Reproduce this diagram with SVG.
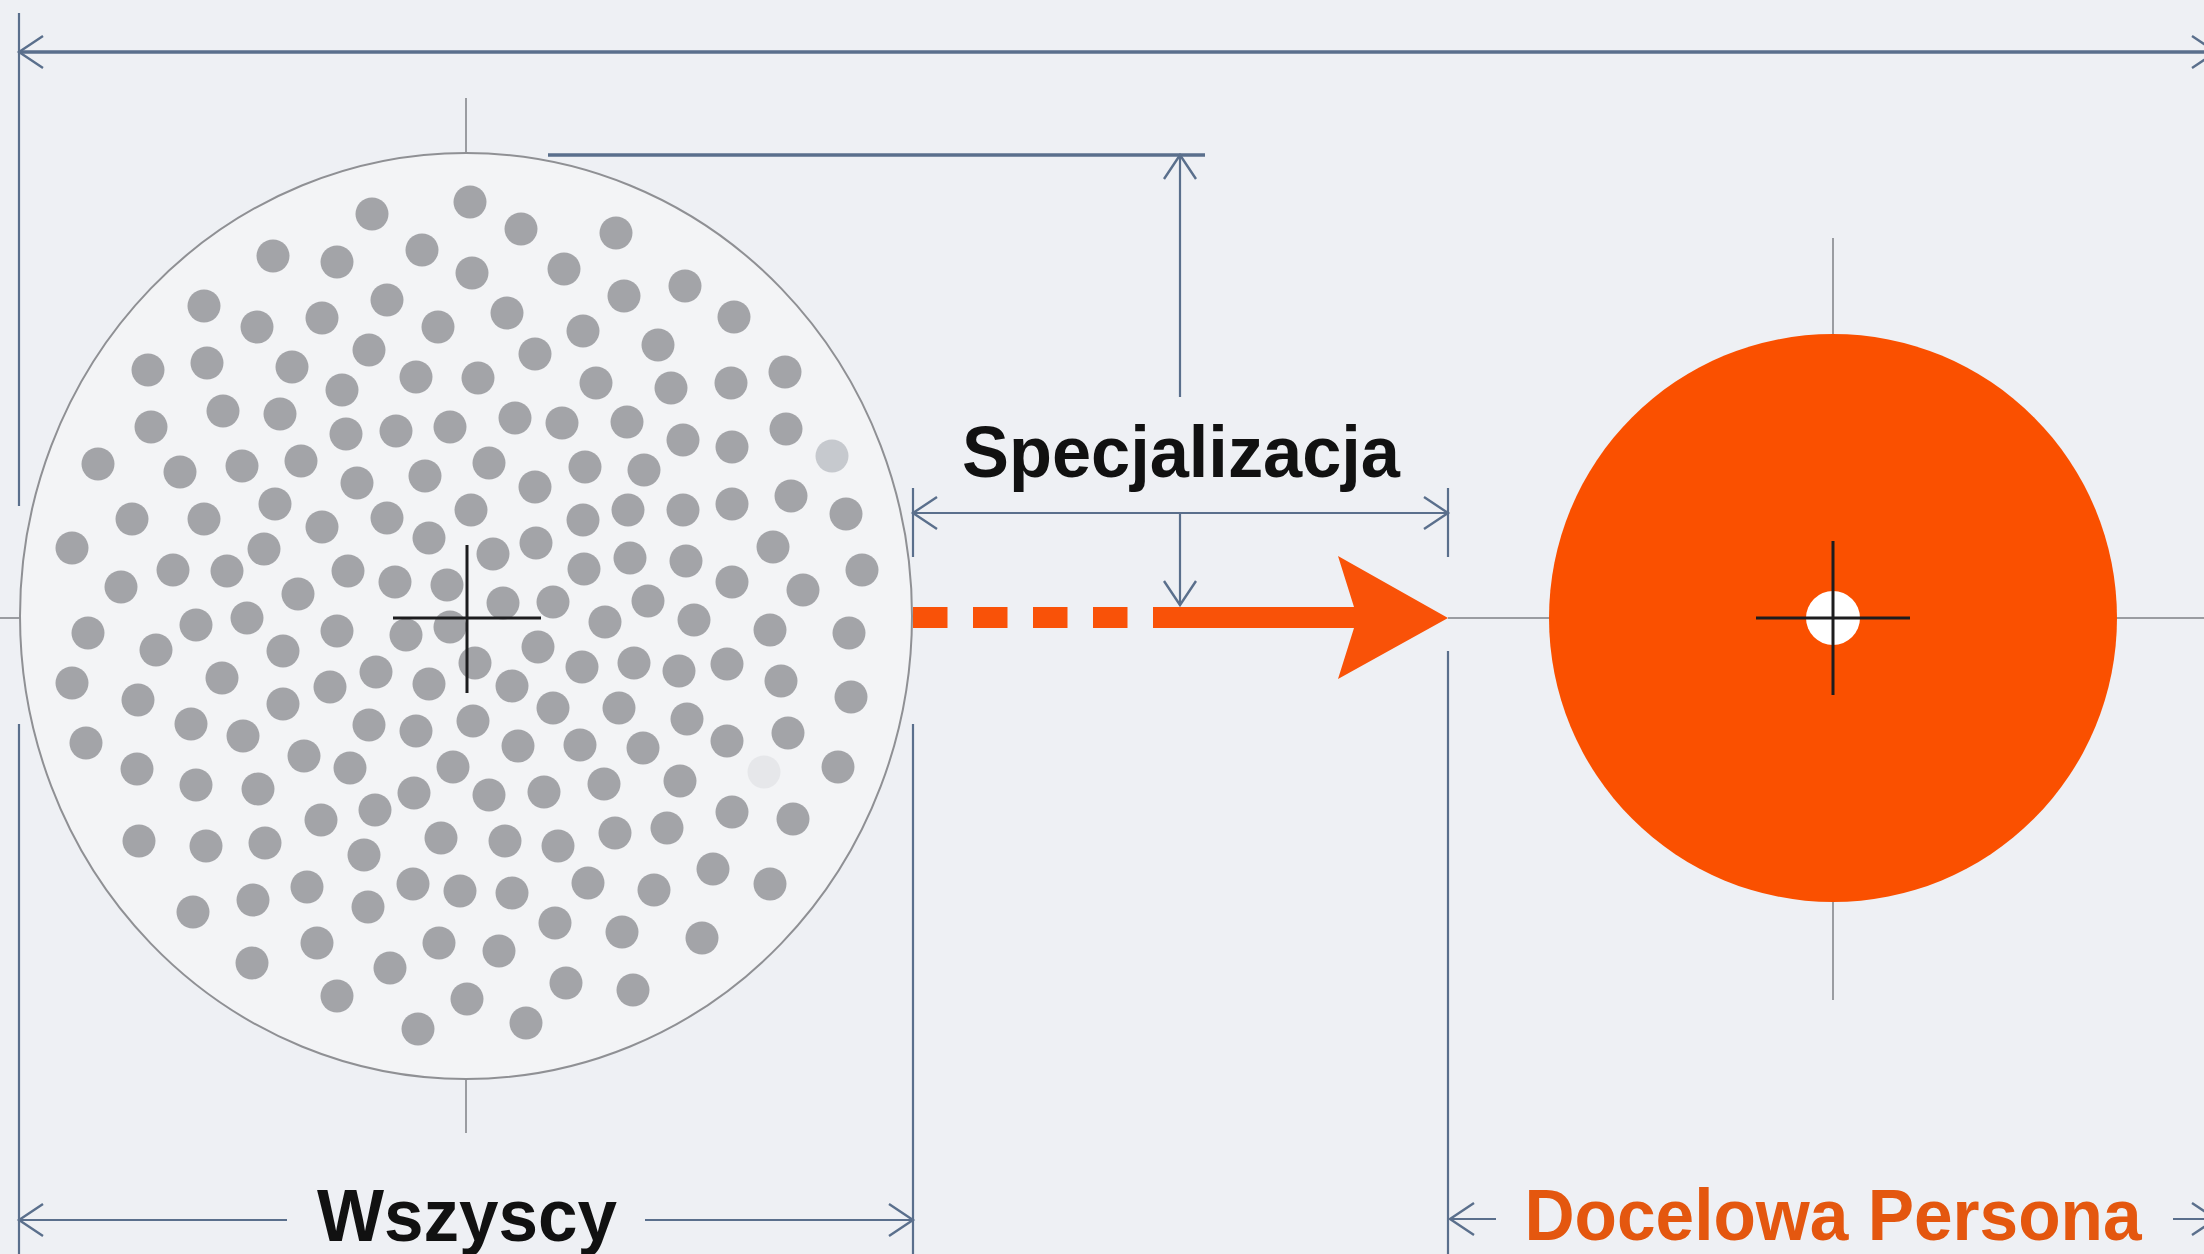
<svg xmlns="http://www.w3.org/2000/svg" width="2204" height="1254" viewBox="0 0 2204 1254">
<defs>
<style>
.bg{fill:#eef0f4}
.dim{stroke:#5a6f8c;stroke-width:2.2;fill:none}
.dimT{stroke:#5a6f8c;stroke-width:3.5;fill:none}
.ctr{stroke:#9a9ca1;stroke-width:2;fill:none}
.cross{stroke:#1c1c1e;stroke-width:3;fill:none}
.d{fill:#a3a4a8}
.lbl{font-family:"Liberation Sans",Arial,sans-serif;font-weight:bold;text-anchor:middle}
.orange{fill:#f95208}
</style>
<marker id="ah" viewBox="-28 -20 32 40" markerWidth="32" markerHeight="40" refX="0" refY="0" orient="auto-start-reverse" markerUnits="userSpaceOnUse" overflow="visible">
<path d="M-24,-16 L0,0 L-24,16" fill="none" stroke="#5a6f8c" stroke-width="2.4"/>
</marker>
</defs>
<rect class="bg" x="0" y="0" width="2204" height="1254"/>

<g id="connectors">
<!-- overall top dimension -->
<line class="dimT" x1="19" y1="52" x2="2216" y2="52" marker-start="url(#ah)" marker-end="url(#ah)"/>
<line class="dim" x1="19" y1="13" x2="19" y2="506" stroke-width="3"/>
<line class="dim" x1="19" y1="724" x2="19" y2="1254" stroke-width="3"/>
<!-- extension lines -->
<line class="dim" x1="913" y1="488" x2="913" y2="557"/>
<line class="dim" x1="913" y1="724" x2="913" y2="1254"/>
<line class="dim" x1="1448" y1="488" x2="1448" y2="557"/>
<line class="dim" x1="1448" y1="651" x2="1448" y2="1254"/>
<line class="dimT" x1="548" y1="155" x2="1205" y2="155"/>
<!-- Specjalizacja dimension -->
<line class="dim" x1="1180" y1="397" x2="1180" y2="155" marker-end="url(#ah)"/>
<line class="dim" x1="1180" y1="513" x2="1180" y2="605" marker-end="url(#ah)"/>
<line class="dim" x1="913" y1="513" x2="1448" y2="513" marker-start="url(#ah)" marker-end="url(#ah)"/>
<!-- Wszyscy dimension -->
<line class="dim" x1="287" y1="1220" x2="19" y2="1220" marker-end="url(#ah)"/>
<line class="dim" x1="645" y1="1220" x2="913" y2="1220" marker-end="url(#ah)"/>
<!-- Docelowa Persona dimension -->
<line class="dim" x1="1496" y1="1219" x2="1450" y2="1219" marker-end="url(#ah)"/>
<line class="dim" x1="2173" y1="1219" x2="2216" y2="1219" marker-end="url(#ah)"/>
<!-- center lines -->
<line class="ctr" x1="0" y1="618" x2="21" y2="618"/>
<line class="ctr" x1="1448" y1="618" x2="2204" y2="618"/>
<line class="ctr" x1="466" y1="98" x2="466" y2="152"/>
<line class="ctr" x1="466" y1="1079" x2="466" y2="1133"/>
<line class="ctr" x1="1833" y1="238" x2="1833" y2="1000"/>
<!-- orange specialization arrow -->
<g id="arrow-specjalizacja">
<rect class="orange" x="913" y="607" width="34.5" height="21"/>
<rect class="orange" x="973" y="607" width="34.5" height="21"/>
<rect class="orange" x="1033" y="607" width="34.5" height="21"/>
<rect class="orange" x="1093" y="607" width="34.5" height="21"/>
<path class="orange" d="M1153,607 L1354,607 L1338,556 L1448,618 L1338,679 L1354,628 L1153,628 Z"/>
</g>
</g>

<g id="node-wszyscy">
<ellipse cx="466" cy="616" rx="446" ry="463" fill="#f3f4f6" stroke="#8f9094" stroke-width="2"/>
<g id="population-dots">
<circle class="d" cx="372" cy="214" r="16.5"/><circle class="d" cx="470" cy="202" r="16.5"/><circle class="d" cx="273" cy="256" r="16.5"/><circle class="d" cx="337" cy="262" r="16.5"/><circle class="d" cx="422" cy="250" r="16.5"/><circle class="d" cx="472" cy="273" r="16.5"/><circle class="d" cx="204" cy="306" r="16.5"/><circle class="d" cx="257" cy="327" r="16.5"/><circle class="d" cx="322" cy="318" r="16.5"/><circle class="d" cx="387" cy="300" r="16.5"/><circle class="d" cx="438" cy="327" r="16.5"/><circle class="d" cx="148" cy="370" r="16.5"/><circle class="d" cx="207" cy="363" r="16.5"/><circle class="d" cx="292" cy="367" r="16.5"/><circle class="d" cx="369" cy="350" r="16.5"/><circle class="d" cx="416" cy="377" r="16.5"/><circle class="d" cx="478" cy="378" r="16.5"/><circle class="d" cx="342" cy="390" r="16.5"/><circle class="d" cx="223" cy="411" r="16.5"/><circle class="d" cx="280" cy="414" r="16.5"/><circle class="d" cx="151" cy="427" r="16.5"/><circle class="d" cx="346" cy="434" r="16.5"/><circle class="d" cx="396" cy="431" r="16.5"/><circle class="d" cx="450" cy="427" r="16.5"/><circle class="d" cx="98" cy="464" r="16.5"/><circle class="d" cx="180" cy="472" r="16.5"/><circle class="d" cx="242" cy="466" r="16.5"/><circle class="d" cx="301" cy="461" r="16.5"/><circle class="d" cx="357" cy="483" r="16.5"/><circle class="d" cx="425" cy="476" r="16.5"/><circle class="d" cx="275" cy="504" r="16.5"/><circle class="d" cx="132" cy="519" r="16.5"/><circle class="d" cx="204" cy="519" r="16.5"/><circle class="d" cx="322" cy="527" r="16.5"/><circle class="d" cx="387" cy="518" r="16.5"/><circle class="d" cx="471" cy="510" r="16.5"/><circle class="d" cx="429" cy="538" r="16.5"/><circle class="d" cx="72" cy="548" r="16.5"/><circle class="d" cx="264" cy="549" r="16.5"/><circle class="d" cx="173" cy="570" r="16.5"/><circle class="d" cx="227" cy="571" r="16.5"/><circle class="d" cx="348" cy="571" r="16.5"/><circle class="d" cx="395" cy="582" r="16.5"/><circle class="d" cx="447" cy="585" r="16.5"/><circle class="d" cx="121" cy="587" r="16.5"/><circle class="d" cx="298" cy="594" r="16.5"/>
<circle class="d" cx="521" cy="229" r="16.5"/><circle class="d" cx="616" cy="233" r="16.5"/><circle class="d" cx="564" cy="269" r="16.5"/><circle class="d" cx="624" cy="296" r="16.5"/><circle class="d" cx="685" cy="286" r="16.5"/><circle class="d" cx="734" cy="317" r="16.5"/><circle class="d" cx="507" cy="313" r="16.5"/><circle class="d" cx="583" cy="331" r="16.5"/><circle class="d" cx="658" cy="345" r="16.5"/><circle class="d" cx="535" cy="354" r="16.5"/><circle class="d" cx="596" cy="383" r="16.5"/><circle class="d" cx="671" cy="388" r="16.5"/><circle class="d" cx="731" cy="383" r="16.5"/><circle class="d" cx="785" cy="372" r="16.5"/><circle class="d" cx="515" cy="418" r="16.5"/><circle class="d" cx="562" cy="423" r="16.5"/><circle class="d" cx="627" cy="422" r="16.5"/><circle class="d" cx="683" cy="440" r="16.5"/><circle class="d" cx="732" cy="447" r="16.5"/><circle class="d" cx="786" cy="429" r="16.5"/><circle cx="832" cy="456" r="16.5" fill="#c6c9ce"/><circle class="d" cx="489" cy="463" r="16.5"/><circle class="d" cx="585" cy="467" r="16.5"/><circle class="d" cx="644" cy="470" r="16.5"/><circle class="d" cx="535" cy="487" r="16.5"/><circle class="d" cx="628" cy="510" r="16.5"/><circle class="d" cx="683" cy="510" r="16.5"/><circle class="d" cx="732" cy="504" r="16.5"/><circle class="d" cx="791" cy="496" r="16.5"/><circle class="d" cx="846" cy="514" r="16.5"/><circle class="d" cx="583" cy="520" r="16.5"/><circle class="d" cx="536" cy="543" r="16.5"/><circle class="d" cx="493" cy="554" r="16.5"/><circle class="d" cx="630" cy="558" r="16.5"/><circle class="d" cx="686" cy="561" r="16.5"/><circle class="d" cx="773" cy="547" r="16.5"/><circle class="d" cx="862" cy="570" r="16.5"/><circle class="d" cx="584" cy="569" r="16.5"/><circle class="d" cx="732" cy="582" r="16.5"/><circle class="d" cx="803" cy="590" r="16.5"/><circle class="d" cx="503" cy="603" r="16.5"/><circle class="d" cx="553" cy="602" r="16.5"/><circle class="d" cx="648" cy="601" r="16.5"/>
<circle class="d" cx="88" cy="633" r="16.5"/><circle class="d" cx="156" cy="650" r="16.5"/><circle class="d" cx="196" cy="625" r="16.5"/><circle class="d" cx="247" cy="618" r="16.5"/><circle class="d" cx="283" cy="651" r="16.5"/><circle class="d" cx="337" cy="631" r="16.5"/><circle class="d" cx="406" cy="635" r="16.5"/><circle class="d" cx="450" cy="627" r="16.5"/><circle class="d" cx="72" cy="683" r="16.5"/><circle class="d" cx="138" cy="700" r="16.5"/><circle class="d" cx="222" cy="678" r="16.5"/><circle class="d" cx="283" cy="704" r="16.5"/><circle class="d" cx="330" cy="687" r="16.5"/><circle class="d" cx="376" cy="672" r="16.5"/><circle class="d" cx="429" cy="684" r="16.5"/><circle class="d" cx="191" cy="724" r="16.5"/><circle class="d" cx="243" cy="736" r="16.5"/><circle class="d" cx="369" cy="725" r="16.5"/><circle class="d" cx="416" cy="731" r="16.5"/><circle class="d" cx="86" cy="743" r="16.5"/><circle class="d" cx="304" cy="756" r="16.5"/><circle class="d" cx="350" cy="768" r="16.5"/><circle class="d" cx="453" cy="767" r="16.5"/><circle class="d" cx="137" cy="769" r="16.5"/><circle class="d" cx="196" cy="785" r="16.5"/><circle class="d" cx="258" cy="789" r="16.5"/><circle class="d" cx="414" cy="793" r="16.5"/><circle class="d" cx="375" cy="810" r="16.5"/><circle class="d" cx="321" cy="820" r="16.5"/><circle class="d" cx="441" cy="838" r="16.5"/><circle class="d" cx="139" cy="841" r="16.5"/><circle class="d" cx="206" cy="846" r="16.5"/><circle class="d" cx="265" cy="843" r="16.5"/><circle class="d" cx="364" cy="855" r="16.5"/><circle class="d" cx="307" cy="887" r="16.5"/><circle class="d" cx="413" cy="884" r="16.5"/><circle class="d" cx="460" cy="891" r="16.5"/><circle class="d" cx="253" cy="900" r="16.5"/><circle class="d" cx="368" cy="907" r="16.5"/><circle class="d" cx="193" cy="912" r="16.5"/><circle class="d" cx="317" cy="943" r="16.5"/><circle class="d" cx="439" cy="943" r="16.5"/><circle class="d" cx="252" cy="963" r="16.5"/><circle class="d" cx="390" cy="968" r="16.5"/><circle class="d" cx="337" cy="996" r="16.5"/><circle class="d" cx="467" cy="999" r="16.5"/><circle class="d" cx="418" cy="1029" r="16.5"/>
<circle class="d" cx="605" cy="622" r="16.5"/><circle class="d" cx="694" cy="620" r="16.5"/><circle class="d" cx="770" cy="630" r="16.5"/><circle class="d" cx="849" cy="633" r="16.5"/><circle class="d" cx="538" cy="647" r="16.5"/><circle class="d" cx="475" cy="663" r="16.5"/><circle class="d" cx="582" cy="667" r="16.5"/><circle class="d" cx="634" cy="663" r="16.5"/><circle class="d" cx="679" cy="671" r="16.5"/><circle class="d" cx="727" cy="664" r="16.5"/><circle class="d" cx="781" cy="681" r="16.5"/><circle class="d" cx="851" cy="697" r="16.5"/><circle class="d" cx="512" cy="686" r="16.5"/><circle class="d" cx="553" cy="708" r="16.5"/><circle class="d" cx="619" cy="708" r="16.5"/><circle class="d" cx="687" cy="719" r="16.5"/><circle class="d" cx="473" cy="721" r="16.5"/><circle class="d" cx="727" cy="741" r="16.5"/><circle class="d" cx="788" cy="733" r="16.5"/><circle class="d" cx="518" cy="746" r="16.5"/><circle class="d" cx="580" cy="745" r="16.5"/><circle class="d" cx="643" cy="748" r="16.5"/><circle cx="764" cy="772" r="16.5" fill="#e6e7ea"/><circle class="d" cx="838" cy="767" r="16.5"/><circle class="d" cx="489" cy="795" r="16.5"/><circle class="d" cx="544" cy="792" r="16.5"/><circle class="d" cx="604" cy="784" r="16.5"/><circle class="d" cx="680" cy="781" r="16.5"/><circle class="d" cx="732" cy="812" r="16.5"/><circle class="d" cx="793" cy="819" r="16.5"/><circle class="d" cx="505" cy="841" r="16.5"/><circle class="d" cx="558" cy="846" r="16.5"/><circle class="d" cx="615" cy="833" r="16.5"/><circle class="d" cx="667" cy="828" r="16.5"/><circle class="d" cx="713" cy="869" r="16.5"/><circle class="d" cx="770" cy="884" r="16.5"/><circle class="d" cx="512" cy="893" r="16.5"/><circle class="d" cx="588" cy="883" r="16.5"/><circle class="d" cx="654" cy="890" r="16.5"/><circle class="d" cx="555" cy="923" r="16.5"/><circle class="d" cx="622" cy="932" r="16.5"/><circle class="d" cx="702" cy="938" r="16.5"/><circle class="d" cx="499" cy="951" r="16.5"/><circle class="d" cx="566" cy="983" r="16.5"/><circle class="d" cx="633" cy="990" r="16.5"/><circle class="d" cx="526" cy="1023" r="16.5"/>
</g>
<line class="cross" x1="393" y1="618" x2="541" y2="618"/>
<line class="cross" x1="467" y1="545" x2="467" y2="693"/>
</g>

<g id="node-persona">
<circle cx="1833" cy="618" r="284" fill="#fa5000"/>
<circle cx="1833" cy="618" r="27" fill="#ffffff"/>
<line class="cross" x1="1756" y1="618" x2="1910" y2="618"/>
<line class="cross" x1="1833" y1="541" x2="1833" y2="695"/>
</g>

<g id="labels">
<text class="lbl" x="1181" y="477" font-size="73" fill="#111111" textLength="438" lengthAdjust="spacingAndGlyphs">Specjalizacja</text>
<text class="lbl" x="467" y="1241" font-size="75" fill="#111111" textLength="300" lengthAdjust="spacingAndGlyphs">Wszyscy</text>
<text class="lbl" x="1833" y="1240" font-size="72" fill="#e4570f" textLength="617" lengthAdjust="spacingAndGlyphs">Docelowa Persona</text>
</g>
</svg>
